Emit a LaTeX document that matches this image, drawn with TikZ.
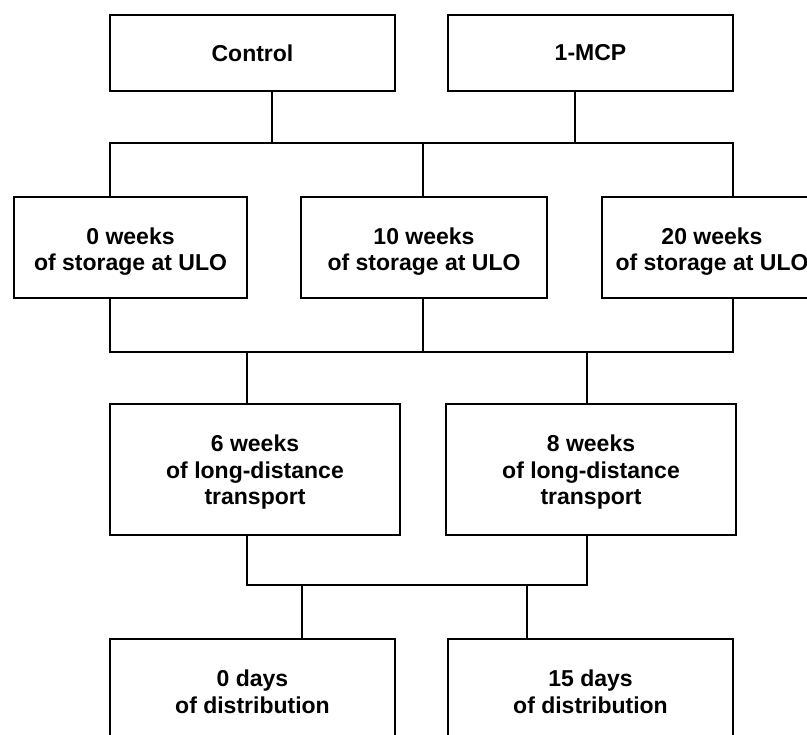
\documentclass[tikz,border=0pt]{standalone}
\usepackage{fontspec}
\setmainfont{Liberation Sans}
\begin{document}
\begin{tikzpicture}[x=1pt,y=1pt,
  box/.style={draw=black, line width=2.6pt, fill=white, inner sep=0pt},
  txt/.style={inner sep=0pt, align=center, font=\fontsize{23}{26.5}\selectfont\bfseries},
  conn/.style={draw=black, line width=2.4pt, line join=miter}]
\useasboundingbox (0,0) rectangle (807,-735);
\clip (0,0) rectangle (807,-735);
\fill[white] (0,0) rectangle (807,-735);
% row 1
\node[box, minimum width=285pt, minimum height=76pt,
  label={[txt]center:Control}] (ctrl) at (252.5,-53) {};
\node[box, minimum width=285pt, minimum height=76pt,
  label={[txt]center:1-MCP}] (mcp) at (590.5,-53) {};
% row 2
\node[box, minimum width=233pt, minimum height=101pt,
  label={[txt,yshift=-4pt]center:{0 weeks\\of storage at ULO}}] (s0) at (130.5,-247.5) {};
\node[box, minimum width=246pt, minimum height=101pt,
  label={[txt,yshift=-4pt]center:{10 weeks\\of storage at ULO}}] (s10) at (424,-247.5) {};
\node[box, minimum width=220pt, minimum height=101pt,
  label={[txt,yshift=-4pt]center:{20 weeks\\of storage at ULO}}] (s20) at (712,-247.5) {};
% row 3
\node[box, minimum width=290pt, minimum height=131pt,
  label={[txt,yshift=-3pt]center:{6 weeks\\of long-distance\\transport}}] (t6) at (255,-469.5) {};
\node[box, minimum width=290pt, minimum height=131pt,
  label={[txt,yshift=-3pt]center:{8 weeks\\of long-distance\\transport}}] (t8) at (591,-469.5) {};
% row 4
\node[box, minimum width=285pt, minimum height=106pt,
  label={[txt]center:{0 days\\of distribution}}] (d0) at (252.5,-692) {};
\node[box, minimum width=285pt, minimum height=106pt,
  label={[txt]center:{15 days\\of distribution}}] (d15) at (590.5,-692) {};
% junction coordinates
\coordinate (b1L) at (110,-143);
\coordinate (b1R) at (733,-143);
\coordinate (k1) at (272,-143);
\coordinate (k2) at (575,-143);
\coordinate (k3) at (423,-143);
\coordinate (b2L) at (110,-352);
\coordinate (b2R) at (733,-352);
\coordinate (k4) at (423,-352);
\coordinate (k5) at (247,-352);
\coordinate (k6) at (587,-352);
\coordinate (b3L) at (247,-585);
\coordinate (b3R) at (587,-585);
\coordinate (k7) at (302,-585);
\coordinate (k8) at (527,-585);
% connectors row 1 -> row 2
\draw[conn] (ctrl.south -| k1) -- (k1);
\draw[conn] (mcp.south -| k2) -- (k2);
\draw[conn] (s0.north -| b1L) -- (b1L) -- (b1R) -- (s20.north -| b1R);
\draw[conn] (k3) -- (s10.north -| k3);
% row 2 -> row 3
\draw[conn] (s0.south -| b2L) -- (b2L) -- (b2R) -- (s20.south -| b2R);
\draw[conn] (s10.south -| k4) -- (k4);
\draw[conn] (k5) -- (t6.north -| k5);
\draw[conn] (k6) -- (t8.north -| k6);
% row 3 -> row 4
\draw[conn] (t6.south -| b3L) -- (b3L) -- (b3R) -- (t8.south -| b3R);
\draw[conn] (k7) -- (d0.north -| k7);
\draw[conn] (k8) -- (d15.north -| k8);
\end{tikzpicture}
\end{document}
